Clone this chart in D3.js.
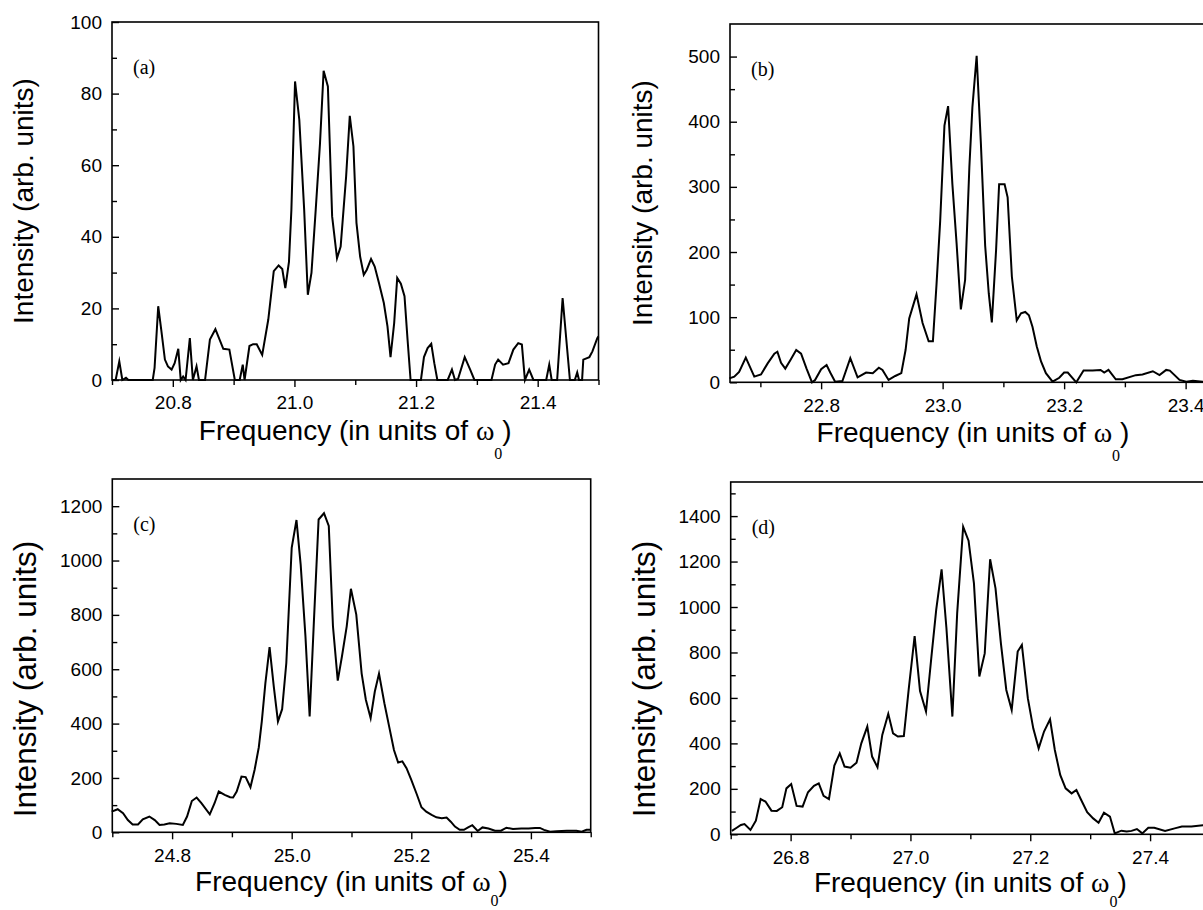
<!DOCTYPE html>
<html><head><meta charset="utf-8">
<script src="https://cdn.jsdelivr.net/npm/d3@7"></script>
<style>body{margin:0;background:#fff;} svg{display:block}</style>
</head><body>
<svg id="chart" width="1203" height="910"></svg>
<script>
// ---------- data ----------
const panelLabels = ["(a)", "(b)", "(c)", "(d)"];

const freqA = [20.700,20.706,20.712,20.717,20.723,20.727,20.767,20.770,20.776,20.781,20.787,20.792,20.798,20.803,20.809,20.813,20.817,20.821,20.828,20.833,20.839,20.843,20.853,20.861,20.870,20.883,20.893,20.902,20.910,20.915,20.918,20.926,20.932,20.938,20.947,20.957,20.966,20.974,20.980,20.985,20.991,20.995,21.001,21.008,21.016,21.022,21.028,21.035,21.042,21.048,21.055,21.062,21.070,21.076,21.085,21.091,21.097,21.102,21.108,21.114,21.119,21.126,21.132,21.139,21.147,21.153,21.158,21.164,21.169,21.175,21.181,21.186,21.191,21.208,21.213,21.219,21.225,21.230,21.235,21.252,21.259,21.264,21.269,21.280,21.289,21.296,21.324,21.330,21.335,21.343,21.352,21.360,21.368,21.374,21.379,21.386,21.393,21.414,21.419,21.423,21.432,21.441,21.453,21.461,21.465,21.468,21.473,21.475,21.485,21.490,21.498,21.500];
const intensityA = [0,0,5.2,0,0.6,0,0,3.4,20.6,14,5.7,3.8,2.9,4.7,8.7,0,1,0,11.7,0,3.8,0,0,11.3,14.2,8.7,8.5,0,0,4.3,0,9.5,10,10,7,16.9,30.4,32,31,25.7,33,47.6,83.4,72.7,47.6,23.8,29.9,47.6,66,86.4,82,45.7,34,37.3,56.9,73.8,65.3,43.9,34.5,29.4,30.8,33.8,31.7,27.1,21.5,15,6.4,15.9,28.5,26.9,23.4,11.3,0,0,6.4,8.9,10.1,4.7,0,0,2.9,0,0.3,6.4,2.9,0,0,4.3,5.7,4.3,4.7,8.5,10.3,9.9,0,2.9,0,0,4.3,0,0,22.9,0,0,2.1,0,0,5.7,6.4,8,11.7,12.2];

const freqB = [22.649,22.657,22.665,22.676,22.690,22.701,22.712,22.723,22.728,22.734,22.741,22.750,22.759,22.767,22.776,22.785,22.790,22.800,22.809,22.815,22.823,22.835,22.848,22.860,22.874,22.885,22.895,22.901,22.911,22.922,22.932,22.939,22.945,22.957,22.967,22.977,22.984,22.990,22.996,23.003,23.009,23.016,23.023,23.030,23.037,23.044,23.049,23.056,23.063,23.070,23.076,23.081,23.088,23.093,23.102,23.107,23.114,23.122,23.129,23.136,23.142,23.148,23.155,23.162,23.170,23.181,23.192,23.200,23.206,23.220,23.232,23.247,23.260,23.266,23.273,23.285,23.296,23.318,23.329,23.346,23.357,23.368,23.374,23.390,23.401,23.412,23.428,23.450];
const intensityB = [6,8.7,16,38,8.7,12,29,44,47,30,21,35,49.5,44,21,0,3.5,20,26.5,15,1,2,37,7.6,15,14,22.4,19,3.6,9.7,14,49.5,98,135,91,63,63,151,248,394,424,305,213,112,157,330,422,501,366,210,136,92,203,304,304,284,162,95,106,108,103,85,55,32,14,1,7,15,15,0,18,18,19,15,19,4.6,4.6,11,12,17,11,19,18,3.6,1,2.5,1,1];

const freqC = [24.699,24.709,24.718,24.726,24.734,24.743,24.751,24.762,24.771,24.779,24.787,24.796,24.807,24.818,24.825,24.833,24.841,24.849,24.863,24.871,24.878,24.888,24.897,24.902,24.908,24.916,24.923,24.931,24.938,24.945,24.950,24.956,24.963,24.970,24.977,24.984,24.991,25.000,25.008,25.015,25.023,25.030,25.037,25.045,25.054,25.062,25.069,25.077,25.084,25.092,25.099,25.108,25.117,25.124,25.132,25.139,25.146,25.155,25.163,25.171,25.178,25.185,25.192,25.200,25.209,25.217,25.225,25.234,25.242,25.251,25.259,25.266,25.273,25.281,25.288,25.295,25.302,25.311,25.319,25.329,25.340,25.350,25.359,25.370,25.384,25.396,25.407,25.415,25.422,25.432,25.443,25.460,25.476,25.485,25.493,25.500];
const intensityC = [76,85,70,45,29,29,48,58,45,27,29,33,31,27,58,115,128,107,66,107,150,138,129,128,150,205,203,166,230,313,408,549,681,537,408,453,623,1047,1149,985,721,426,770,1151,1174,1127,758,558,647,758,896,801,584,488,420,518,584,475,389,303,257,261,236,193,141,92,76,64,55,52,54,39,21,9,9,18,26,5,18,14,6,6,17,12,14,14,16,16,9,2,4,6,6,2,9,9];

const freqD = [26.702,26.710,26.717,26.723,26.733,26.742,26.750,26.758,26.768,26.777,26.786,26.793,26.801,26.810,26.820,26.829,26.839,26.847,26.855,26.864,26.873,26.882,26.890,26.900,26.910,26.918,26.928,26.936,26.945,26.953,26.963,26.971,26.979,26.989,26.997,27.007,27.016,27.026,27.035,27.043,27.052,27.060,27.070,27.078,27.088,27.097,27.106,27.115,27.124,27.133,27.142,27.151,27.160,27.169,27.179,27.186,27.196,27.205,27.214,27.223,27.233,27.241,27.250,27.259,27.269,27.277,27.285,27.295,27.305,27.314,27.323,27.333,27.341,27.352,27.361,27.369,27.378,27.387,27.397,27.407,27.425,27.441,27.453,27.469,27.491,27.500];
const intensityD = [15,29,41,45,19,60,155,144,104,103,119,202,221,125,122,185,213,224,169,155,302,356,298,293,315,400,474,342,295,437,530,444,430,432,635,872,630,540,781,987,1166,910,518,972,1353,1292,1104,694,796,1210,1082,840,635,547,804,833,598,466,378,452,506,371,261,202,180,195,151,97,70,51,95,78,4,16,12,15,23,4,29,29,15,26,34,34,41,42];

// tick values
const xTicksA = [20.8, 21.0, 21.2, 21.4];
const xMinorA = [20.7, 20.9, 21.1, 21.3, 21.5];
const yTicksA = [0, 20, 40, 60, 80, 100];
const yMinorA = [10, 30, 50, 70, 90];

const xTicksB = [22.8, 23.0, 23.2, 23.4];
const xMinorB = [22.7, 22.9, 23.1, 23.3];
const yTicksB = [0, 100, 200, 300, 400, 500];
const yMinorB = [50, 150, 250, 350, 450];

const xTicksC = [24.8, 25.0, 25.2, 25.4];
const xMinorC = [24.7, 24.9, 25.1, 25.3, 25.5];
const yTicksC = [0, 200, 400, 600, 800, 1000, 1200];
const yMinorC = [100, 300, 500, 700, 900, 1100];

const xTicksD = [26.8, 27.0, 27.2, 27.4];
const xMinorD = [26.7, 26.9, 27.1, 27.3, 27.5];
const yTicksD = [0, 200, 400, 600, 800, 1000, 1200, 1400];
const yMinorD = [100, 300, 500, 700, 900, 1100, 1300, 1500];

const yTitleText = "Intensity (arb. units)";
const xTitleMain = "Frequency (in units of ";
const xTitleSymbol = "\u03C9";
const xTitleSub = "0";

// ---------- layout ----------
const SANS = "'Liberation Sans', Arial, Helvetica, sans-serif";
const SERIF = "'Liberation Serif', 'Times New Roman', serif";

const panels = [
  {freq: freqA, inten: intensityA, label: panelLabels[0], xMajor: xTicksA, xMinor: xMinorA, yMajor: yTicksA, yMinor: yMinorA,
   xDomain: [20.7, 21.5], yDomain: [0, 100], box: [112, 22, 598.5, 380], yt: {x: 33, cy: 201, size: 28}, xt: {dy: 60, sub: 19}},
  {freq: freqB, inten: intensityB, label: panelLabels[1], xMajor: xTicksB, xMinor: xMinorB, yMajor: yTicksB, yMinor: yMinorB,
   xDomain: [22.65, 23.45], yDomain: [0, 550], box: [730, 24, 1216, 382.3], yt: {x: 652, cy: 203, size: 28}, xt: {dy: 60, sub: 19}},
  {freq: freqC, inten: intensityC, label: panelLabels[2], xMajor: xTicksC, xMinor: xMinorC, yMajor: yTicksC, yMinor: yMinorC,
   xDomain: [24.7, 25.5], yDomain: [0, 1300], box: [112.3, 479, 590.7, 832.3], yt: {x: 36, cy: 679, size: 31.5}, xt: {dy: 59, sub: 15}},
  {freq: freqD, inten: intensityD, label: panelLabels[3], xMajor: xTicksD, xMinor: xMinorD, yMajor: yTicksD, yMinor: yMinorD,
   xDomain: [26.7, 27.5], yDomain: [0, 1550], box: [730.7, 482, 1210, 834.3], yt: {x: 655, cy: 679, size: 31.5}, xt: {dy: 58, sub: 15}}
];

const svg = d3.select("#chart");
svg.append("rect").attr("width", 1203).attr("height", 910).attr("fill", "#fff");

panels.forEach(p => {
  const [L, T, R, B] = p.box;
  const x = d3.scaleLinear().domain(p.xDomain).range([L, R]);
  const y = d3.scaleLinear().domain(p.yDomain).range([B, T]);
  const g = svg.append("g");

  // data curve
  g.append("path")
    .datum(d3.zip(p.freq, p.inten))
    .attr("d", d3.line().x(d => x(d[0])).y(d => y(d[1])))
    .attr("fill", "none")
    .attr("stroke", "#000")
    .attr("stroke-width", 2)
    .attr("stroke-linejoin", "miter")
    .attr("stroke-miterlimit", 6);

  // frame
  g.append("rect")
    .attr("x", L).attr("y", T).attr("width", R - L).attr("height", B - T)
    .attr("fill", "none").attr("stroke", "#000").attr("stroke-width", 1.6);

  // x axis (ticks outward)
  const xMajorAxis = g.append("g").attr("transform", `translate(0,${B})`)
    .call(d3.axisBottom(x).tickValues(p.xMajor).tickSize(7).tickPadding(9).tickFormat(d3.format(".1f")));
  const xMinorAxis = g.append("g").attr("transform", `translate(0,${B})`)
    .call(d3.axisBottom(x).tickValues(p.xMinor).tickSize(5).tickFormat(""));

  // y axis (ticks inward)
  const yMajorAxis = g.append("g").attr("transform", `translate(${L},0)`)
    .call(d3.axisLeft(y).tickValues(p.yMajor).tickSize(-7).tickPadding(10).tickFormat(d3.format("d")));
  const yMinorAxis = g.append("g").attr("transform", `translate(${L},0)`)
    .call(d3.axisLeft(y).tickValues(p.yMinor).tickSize(-5).tickFormat(""));

  [xMajorAxis, xMinorAxis, yMajorAxis, yMinorAxis].forEach(a => {
    a.select(".domain").remove();
    a.attr("font-family", SANS).attr("font-size", 19);
    a.selectAll("line").attr("stroke", "#000").attr("stroke-width", 1.4);
    a.selectAll("text").attr("fill", "#000");
  });

  // panel label
  g.append("text")
    .attr("x", L + 21).attr("y", T + 52)
    .attr("font-family", SERIF).attr("font-size", 20).attr("fill", "#000")
    .text(p.label);

  // x title
  const xt = g.append("text")
    .attr("x", (L + R) / 2).attr("y", B + p.xt.dy)
    .attr("text-anchor", "middle")
    .attr("font-family", SANS).attr("font-size", 28).attr("fill", "#000");
  xt.append("tspan").text(xTitleMain);
  xt.append("tspan").attr("font-family", SERIF).text(xTitleSymbol);
  xt.append("tspan").attr("font-family", SERIF).attr("font-size", 16).attr("dy", p.xt.sub).text(xTitleSub);
  xt.append("tspan").attr("dy", -p.xt.sub).text(")");

  // y title
  g.append("text")
    .attr("transform", `translate(${p.yt.x},${p.yt.cy}) rotate(-90)`)
    .attr("text-anchor", "middle")
    .attr("font-family", SANS).attr("font-size", p.yt.size).attr("fill", "#000")
    .text(yTitleText);
});
</script>
</body></html>
